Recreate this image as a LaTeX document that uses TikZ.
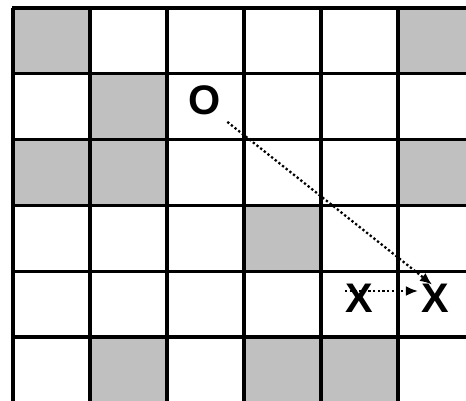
\documentclass[tikz,border=0pt]{standalone}
\usepackage{fontspec}
\setmainfont{Liberation Sans}
\usepackage{xcolor}
\usepackage{tikz}
\usetikzlibrary{arrows.meta,backgrounds}

\definecolor{cellgray}{RGB}{192,192,192}

\begin{document}
\begin{tikzpicture}[x=0.75pt,y=-0.75pt,
    gridline/.style={line width=2.3pt,black},
    graycell/.style={fill=cellgray,draw=gray,line width=0.4pt},
    letter/.style={inner sep=0pt,font=\fontsize{31}{31}\selectfont\bfseries},
    dotarrow/.style={line width=1.7pt,dash pattern=on 1.7pt off 1.8pt,
                     -{Latex[length=9pt,width=7.5pt]}}]
  \clip (0,0) rectangle (466,400);
  \begin{pgfonlayer}{background}
    % shaded squares (column/row)
    \foreach \c/\r in {0/0,5/0,1/1,0/2,1/2,5/2,3/3,1/5,3/5,4/5}
      \filldraw[graycell] (13+77*\c,8+65.8*\r) rectangle ++(77,65.8);
    % board lines
    \foreach \i in {0,...,6} {
      \draw[gridline] (13+77*\i,8) -- (13+77*\i,405);
      \draw[gridline] (11.5,8+65.8*\i) -- (480,8+65.8*\i);
    }
  \end{pgfonlayer}
  \node[letter] (O)  at (205,100) {O};
  \node[letter] (X1) at (359,298) {X};
  \node[letter] (X2) at (435,298) {X};
  \begin{pgfonlayer}{background}
    % move from O and the short step between the two X
    \draw[dotarrow] ([shift={(6,7)}]O.south east) -- ([shift={(-3,1)}]X2.north);
    \draw[dotarrow] ([shift={(0,-7)}]X1.west) -- ([shift={(-3,-7)}]X2.west);
  \end{pgfonlayer}
\end{tikzpicture}
\end{document}
